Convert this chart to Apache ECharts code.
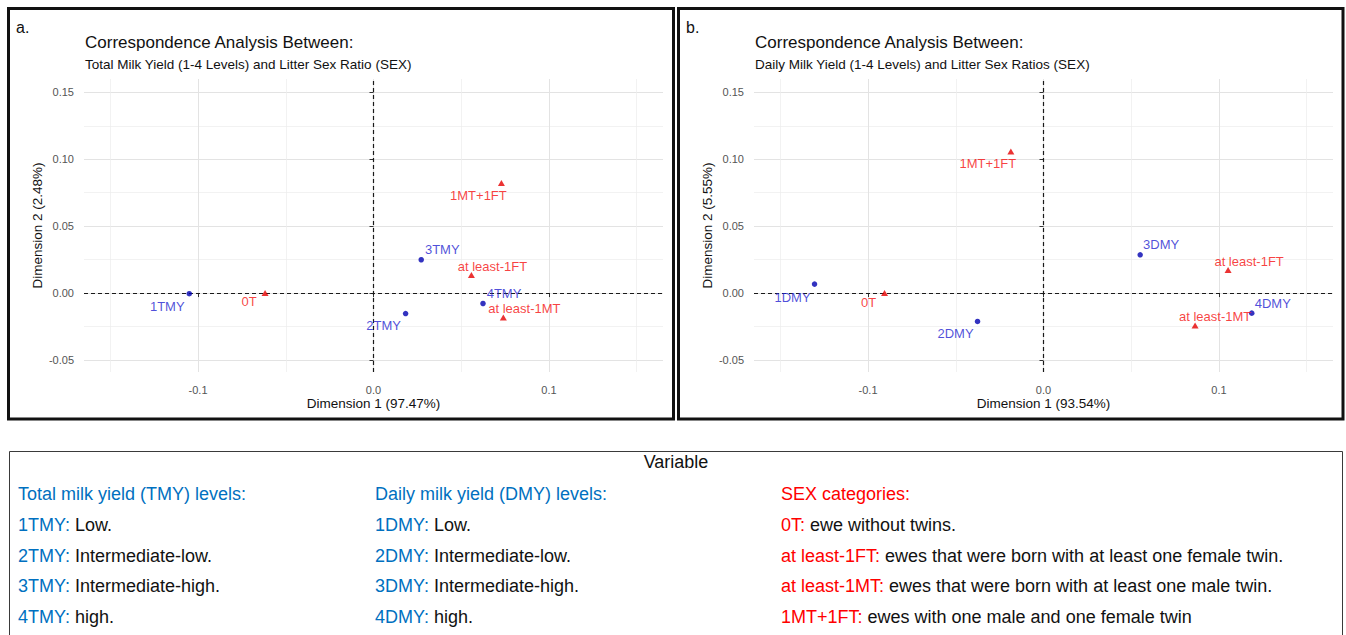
<!DOCTYPE html>
<html>
<head>
<meta charset="utf-8">
<script src="https://cdn.jsdelivr.net/npm/echarts@6/dist/echarts.min.js"></script>
<style>
html,body{margin:0;padding:0;background:#fff;}
#c{width:1346px;height:635px;}
</style>
</head>
<body>
<div id="c"></div>
<script>
// ---------- DATA ----------
// Panel a: Total milk yield levels
const tmyNames = ['1TMY', '2TMY', '3TMY', '4TMY'];
const tmyDim1 = [-0.1050, 0.0183, 0.0272, 0.0624];
const tmyDim2 = [-0.0005, -0.0153, 0.0249, -0.0078];
// Panel a: SEX categories
const sexNamesA = ['0T', 'at least-1FT', 'at least-1MT', '1MT+1FT'];
const sexDim1A = [-0.0618, 0.0558, 0.0740, 0.0729];
const sexDim2A = [0.0000, 0.0135, -0.0182, 0.0823];
// Panel b: Daily milk yield levels
const dmyNames = ['1DMY', '2DMY', '3DMY', '4DMY'];
const dmyDim1 = [-0.1305, -0.0376, 0.0551, 0.1187];
const dmyDim2 = [0.0067, -0.0212, 0.0286, -0.0150];
// Panel b: SEX categories
const sexNamesB = ['0T', 'at least-1FT', 'at least-1MT', '1MT+1FT'];
const sexDim1B = [-0.0906, 0.1052, 0.0864, -0.0186];
const sexDim2B = [0.0000, 0.0172, -0.0242, 0.1059];
// Axis ticks
const xTickValues = [-0.1, 0.0, 0.1];
const yTickValues = [-0.05, 0.0, 0.05, 0.10, 0.15];
const xMinorValues = [-0.15, -0.05, 0.05, 0.15];
const yMinorValues = [-0.025, 0.025, 0.075, 0.125];
// Texts
const panelLetters = ['a.', 'b.'];
const panelTitles = ['Correspondence Analysis Between:', 'Correspondence Analysis Between:'];
const panelSubtitles = ['Total Milk Yield (1-4 Levels) and Litter Sex Ratio (SEX)', 'Daily Milk Yield (1-4 Levels) and Litter Sex Ratios (SEX)'];
const dim1Titles = ['Dimension 1 (97.47%)', 'Dimension 1 (93.54%)'];
const dim2Titles = ['Dimension 2 (2.48%)', 'Dimension 2 (5.55%)'];
const legendHeader = 'Variable';
const legendTMY = ['Total milk yield (TMY) levels:', ['1TMY:', ' Low.'], ['2TMY:', ' Intermediate-low.'], ['3TMY:', ' Intermediate-high.'], ['4TMY:', ' high.']];
const legendDMY = ['Daily milk yield (DMY) levels:', ['1DMY:', ' Low.'], ['2DMY:', ' Intermediate-low.'], ['3DMY:', ' Intermediate-high.'], ['4DMY:', ' high.']];
const legendSEX = ['SEX categories:', ['0T:', ' ewe without twins.'], ['at least-1FT:', ' ewes that were born with at least one female twin.'], ['at least-1MT:', ' ewes that were born with at least one male twin.'], ['1MT+1FT:', ' ewes with one male and one female twin']];

// ---------- STYLE ----------
const FONT = '"Liberation Sans", Arial, Helvetica, sans-serif';
const BLUE_PT = '#0000b0', BLUE_TX = '#1f1fd0';
const RED_PT = '#e60000', RED_TX = '#f50f0f';
const LEG_BLUE = '#0070C0', LEG_RED = '#FF0000';
// label offsets (px) relative to the marker centre
const labelOffsetA = {
  '1TMY': [-22, 13], '2TMY': [-22, 12], '3TMY': [21, -10], '4TMY': [21, -10],
  '0T': [-16, 8], 'at least-1FT': [21, -9], 'at least-1MT': [21, -9], '1MT+1FT': [-23, 13]
};
const labelOffsetB = {
  '1DMY': [-22, 13], '2DMY': [-22, 12], '3DMY': [21, -10], '4DMY': [21, -10],
  '0T': [-16, 9], 'at least-1FT': [21, -9], 'at least-1MT': [20, -9], '1MT+1FT': [-23, 12]
};
const XMIN = -0.165, XMAX = 0.165, YMIN = -0.059, YMAX = 0.160;
const grids = [
  {left: 84, top: 79, width: 579, height: 293},
  {left: 754, top: 79, width: 579, height: 293}
];

function pts(names, xs, ys, offs) {
  return names.map((n, i) => ({name: n, value: [xs[i], ys[i]], label: {offset: offs[n]}}));
}

const xAxes = [], yAxes = [];
grids.forEach((g, gi) => {
  xAxes.push({
    gridIndex: gi, type: 'value', min: XMIN, max: XMAX, position: 'bottom',
    axisLine: {show: false},
    axisTick: {show: true, customValues: xTickValues, length: 4, lineStyle: {color: '#333', width: 1}},
    axisLabel: {customValues: xTickValues, formatter: v => v.toFixed(1), color: '#555', fontSize: 11, fontFamily: FONT, margin: 12},
    splitLine: {show: true, lineStyle: {color: '#e3e3e3', width: 1}},
    name: dim1Titles[gi], nameLocation: 'middle', nameGap: 24,
    nameTextStyle: {color: '#111', fontSize: 13.5, fontFamily: FONT}
  });
  xAxes.push({
    gridIndex: gi, type: 'value', min: XMIN, max: XMAX, position: 'top',
    axisLine: {show: false},
    axisTick: {show: false, customValues: xMinorValues},
    axisLabel: {show: false, customValues: xMinorValues},
    splitLine: {show: true, lineStyle: {color: '#ececec', width: 0.7}}
  });
  yAxes.push({
    gridIndex: gi, type: 'value', min: YMIN, max: YMAX, position: 'left',
    axisLine: {show: false},
    axisTick: {show: true, customValues: yTickValues, length: 4, lineStyle: {color: '#333', width: 1}},
    axisLabel: {customValues: yTickValues, formatter: v => v.toFixed(2), color: '#555', fontSize: 11, fontFamily: FONT, margin: 10},
    splitLine: {show: true, lineStyle: {color: '#e3e3e3', width: 1}},
    name: dim2Titles[gi], nameLocation: 'middle', nameGap: 40,
    nameTextStyle: {color: '#111', fontSize: 13.5, fontFamily: FONT}
  });
  yAxes.push({
    gridIndex: gi, type: 'value', min: YMIN, max: YMAX, position: 'right',
    axisLine: {show: false},
    axisTick: {show: false, customValues: yMinorValues},
    axisLabel: {show: false, customValues: yMinorValues},
    splitLine: {show: true, lineStyle: {color: '#ececec', width: 0.7}}
  });
});

const zeroLines = {
  silent: true, symbol: ['none', 'none'], label: {show: false},
  lineStyle: {color: '#1a1a1a', type: [4, 3], width: 1.2},
  emphasis: {disabled: true},
  data: [{xAxis: 0}, {yAxis: 0}]
};

function scatter(gi, data, isSex) {
  return {
    type: 'scatter', xAxisIndex: gi * 2, yAxisIndex: gi * 2, z: 5,
    symbol: isSex ? 'triangle' : 'circle',
    symbolSize: isSex ? [7, 6] : 5.5,
    itemStyle: {color: isSex ? RED_PT : BLUE_PT},
    label: {show: true, position: 'inside', formatter: p => p.name,
      color: isSex ? RED_TX : BLUE_TX, fontSize: 13, fontFamily: FONT,
      textBorderWidth: 0, textBorderColor: 'transparent'},
    emphasis: {disabled: true},
    data: data
  };
}

const series = [
  Object.assign(scatter(0, pts(sexNamesA, sexDim1A, sexDim2A, labelOffsetA), true), {markLine: zeroLines}),
  scatter(0, pts(tmyNames, tmyDim1, tmyDim2, labelOffsetA), false),
  Object.assign(scatter(1, pts(sexNamesB, sexDim1B, sexDim2B, labelOffsetB), true), {markLine: zeroLines}),
  scatter(1, pts(dmyNames, dmyDim1, dmyDim2, labelOffsetB), false)
];

// ---------- GRAPHICS (frames, titles, legend box) ----------
const graphic = [];
const frames = [[8.5, 8.5, 665, 410.5], [678.5, 8.5, 664.5, 410.5]];
frames.forEach((f, i) => {
  graphic.push({type: 'rect', shape: {x: f[0], y: f[1], width: f[2], height: f[3]},
    style: {fill: 'none', stroke: '#111', lineWidth: 3}, silent: true, z: 10});
  const ox = f[0];
  graphic.push({type: 'text', x: ox + 7.5, y: 27, silent: true,
    style: {text: panelLetters[i], font: '16px ' + FONT, fill: '#111', verticalAlign: 'middle'}});
  graphic.push({type: 'text', x: ox + 76.5, y: 42, silent: true,
    style: {text: panelTitles[i], font: '17px ' + FONT, fill: '#111', verticalAlign: 'middle'}});
  graphic.push({type: 'text', x: ox + 76.5, y: 64.5, silent: true,
    style: {text: panelSubtitles[i], font: '13.5px ' + FONT, fill: '#111', verticalAlign: 'middle'}});
});
graphic.push({type: 'rect', shape: {x: 9.5, y: 451.5, width: 1333, height: 220},
  style: {fill: 'none', stroke: '#3a3a3a', lineWidth: 1}, silent: true});
graphic.push({type: 'text', x: 676, y: 462, silent: true,
  style: {text: legendHeader, font: '18px ' + FONT, fill: '#111', align: 'center', verticalAlign: 'middle'}});
const rowsY = [493.5, 525.2, 555.7, 586.2, 616.7];
const cols = [[18, legendTMY, LEG_BLUE], [375, legendDMY, LEG_BLUE], [781, legendSEX, LEG_RED]];
cols.forEach(c => {
  c[1].forEach((item, r) => {
    let txt;
    if (typeof item === 'string') txt = '{h|' + item + '}';
    else txt = '{k|' + item[0] + '}{d|' + item[1] + '}';
    graphic.push({type: 'text', x: c[0], y: rowsY[r], silent: true,
      style: {text: txt, font: '18px ' + FONT, fill: '#111', verticalAlign: 'middle',
        rich: {
          h: {fill: c[2], font: '18px ' + FONT},
          k: {fill: c[2], font: '18px ' + FONT},
          d: {fill: '#111', font: '18px ' + FONT}
        }}});
  });
});

const chart = echarts.init(document.getElementById('c'), null, {renderer: 'svg'});
chart.setOption({
  backgroundColor: '#fff',
  animation: false,
  grid: grids.map(g => Object.assign({containLabel: false}, g)),
  xAxis: xAxes,
  yAxis: yAxes,
  series: series,
  graphic: graphic
});
</script>
</body>
</html>
